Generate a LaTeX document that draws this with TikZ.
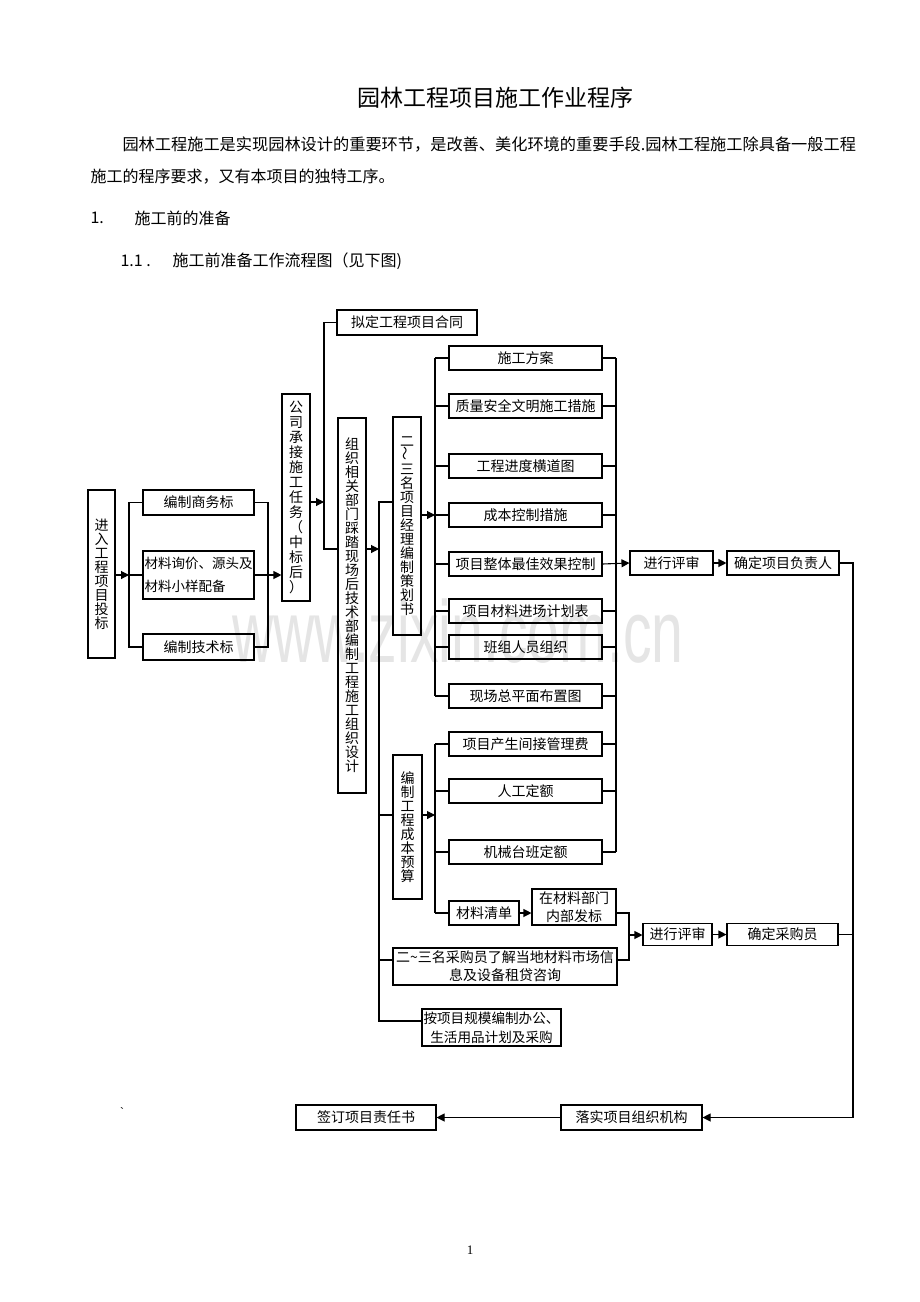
\documentclass[tikz,border=0pt]{standalone}
\usepackage{fontspec}
\usepackage{graphicx}
\setmainfont{Noto Sans CJK SC}
\newfontfamily\numfont{Liberation Serif}
\newfontfamily\wmfamily{Liberation Sans}
\usetikzlibrary{arrows.meta}

\newcommand{\titlefont}{\fontsize{23}{27}\selectfont}
\newcommand{\parafont}{\fontsize{16}{20}\selectfont}
\newcommand{\boxfont}{\fontsize{14}{18}\selectfont}
\newcommand{\vfont}{\fontsize{14}{14}\selectfont}
\newcommand{\wmfont}{\wmfamily\fontsize{88}{88}\selectfont}

\tikzset{
  box/.style={draw, line width=1.1pt, inner sep=0pt, align=center, font=\boxfont},
  vbox/.style={box, font=\vfont},
  colbox/.style={box, minimum width=153, minimum height=24},
  link/.style={line width=1.1pt},
  arr/.style={link, -{Triangle[length=8pt,width=8pt]}},
}

\begin{document}
\begin{tikzpicture}[x=1pt,y=-1pt]
\useasboundingbox[fill=white] (0,0) rectangle (920,1302);

% watermark
\node[font=\wmfont, text=black!10, xscale=0.65, anchor=base] (wm) at (458,662) {www.zixin.com.cn};

% heading text
\node[font=\titlefont] (title) at (495,98) {园林工程项目施工作业程序};
\node[font=\fontsize{16.2}{20}\selectfont, anchor=west] (para1) at (119,145) {园林工程施工是实现园林设计的重要环节，是改善、美化环境的重要手段.园林工程施工除具备一般工程};
\node[font=\parafont, anchor=west] (para2) at (87,177) {施工的程序要求，又有本项目的独特工序。};
\node[font=\parafont, anchor=west] (sec1) at (87,218) {1.};
\node[font=\parafont, anchor=west] (sec1t) at (131,218) {施工前的准备};
\node[font=\parafont, anchor=west] (sec11) at (117,261) {1.1 .};
\node[font=\parafont, anchor=west] (sec11t) at (169,261) {施工前准备工作流程图（见下图)};

% bidding
\node[vbox, minimum width=27, minimum height=168] (toubiao) at (101.5,574) {进\\入\\工\\程\\项\\目\\投\\标};
\node[box, minimum width=111, minimum height=25] (shangwu) at (198.5,502.5) {编制商务标};
\node[box, minimum width=111, minimum height=48, align=left, font=\fontsize{13.5}{22.5}\selectfont] (xunjia) at (198.5,575) {材料询价、源头及\\材料小样配备};
\node[box, minimum width=111, minimum height=26] (jishu) at (198.5,647) {编制技术标};
\node[vbox, minimum width=28, minimum height=207, font=\fontsize{14}{15}\selectfont] (chengjie) at (296,497.5) {公\\司\\承\\接\\施\\工\\任\\务\\（\\中\\标\\后\\）};
\node[box, minimum width=140, minimum height=25] (heta) at (407,322.5) {拟定工程项目合同};
\node[vbox, minimum width=28, minimum height=375] (zuzhi) at (352,605.5) {组\\织\\相\\关\\部\\门\\踩\\踏\\现\\场\\后\\技\\术\\部\\编\\制\\工\\程\\施\\工\\组\\织\\设\\计};

% planning
\node[vbox, minimum width=28, minimum height=218] (cehua) at (407,526) {二\\\rotatebox{90}{～}\\三\\名\\项\\目\\经\\理\\编\\制\\策\\划\\书};
\node[colbox] (fangan) at (525.5,358) {施工方案};
\node[colbox] (zhiliang) at (525.5,406) {质量安全文明施工措施};
\node[colbox] (jindu) at (525.5,466) {工程进度横道图};
\node[colbox] (chengben) at (525.5,515) {成本控制措施};
\node[colbox] (xiaoguo) at (525.5,564) {项目整体最佳效果控制};
\node[colbox] (jinchang) at (525.5,611) {项目材料进场计划表};
\node[colbox] (banzu) at (525.5,647) {班组人员组织};
\node[colbox] (pingmian) at (525.5,696) {现场总平面布置图};

% budget
\node[vbox, minimum width=29, minimum height=144] (yusuan) at (407.5,827) {编\\制\\工\\程\\成\\本\\预\\算};
\node[colbox] (guanli) at (525.5,744) {项目产生间接管理费};
\node[colbox] (rengong) at (525.5,791) {人工定额};
\node[colbox] (jixie) at (525.5,852) {机械台班定额};
\node[box, minimum width=70, minimum height=24] (qingdan) at (484,913) {材料清单};
\node[box, minimum width=84, minimum height=36] (fabiao) at (574,907) {在材料部门\\内部发标};
\node[box, minimum width=224, minimum height=37] (caigou) at (505,966.5) {二\textasciitilde 三名采购员了解当地材料市场信\\息及设备租贷咨询};
\node[box, minimum width=139, minimum height=37, font=\fontsize{13.6}{19}\selectfont] (yongpin) at (491.5,1027.5) {按项目规模编制办公、\\生活用品计划及采购};

% review
\node[box, minimum width=83, minimum height=24] (pingshen1) at (671.5,563) {进行评审};
\node[box, minimum width=112, minimum height=24] (fuzeren) at (783,563) {确定项目负责人};
\node[box, minimum width=69, minimum height=22] (pingshen2) at (677.5,934.5) {进行评审};
\node[box, minimum width=111, minimum height=22] (caigouyuan) at (782.5,934.5) {确定采购员};
\node[box, minimum width=141, minimum height=25] (luoshi) at (631.5,1117.5) {落实项目组织机构};
\node[box, minimum width=140, minimum height=25] (zerenshu) at (366,1117.5) {签订项目责任书};

\node[font=\wmfamily\fontsize{12}{12}\selectfont] (tick) at (122,1112) {\symbol{96}};
\node[font=\numfont\fontsize{13}{13}\selectfont] (pageno) at (470,1250) {1};

% junctions
\coordinate (lb) at (129,575);
\coordinate (rb) at (268,575);
\coordinate (s2) at (324,502);
\coordinate (s3) at (379,549);
\coordinate (s3top) at (379,502);
\coordinate (s3bot) at (379,1021);
\coordinate (ys) at (379,815);
\coordinate (cg) at (379,960);
\coordinate (s4) at (435,515);
\coordinate (s5) at (435,815);
\coordinate (rs) at (616,564);
\coordinate (s6) at (629,935);
\coordinate (fr) at (853,563);

% bidding brackets
\draw[arr] (toubiao.east |- lb) -- (lb);
\draw[link] (shangwu.west) -| (lb) |- (jishu.west);
\draw[link] (xunjia.west) -- (lb);
\draw[link] (shangwu.east) -| (rb) |- (jishu.east);
\draw[arr] (xunjia.east) -- (chengjie.west |- xunjia.east);

% contract / organisation
\draw[arr] (chengjie.east |- s2) -- (s2);
\draw[link] (heta.west) -| (s2) |- (zuzhi.west |- s3);
\draw[arr] (zuzhi.east |- s3) -- (s3);

% main spine
\draw[link] (cehua.west |- s3top) -- (s3top) -- (s3bot) -- (yongpin.west |- s3bot);
\draw[link] (ys) -- (yusuan.west |- ys);
\draw[link] (cg) -- (caigou.west |- cg);

% planning bracket
\draw[arr] (cehua.east |- s4) -- (s4);
\draw[link] (s4 |- fangan) -- (s4 |- pingmian);
\foreach \n in {fangan,zhiliang,jindu,chengben,xiaoguo,jinchang,banzu,pingmian}
  \draw[link] (s4 |- \n) -- (\n.west);

% budget bracket
\draw[arr] (yusuan.east |- s5) -- (s5);
\draw[link] (s5 |- guanli) -- (s5 |- qingdan);
\foreach \n in {guanli,rengong,jixie,qingdan}
  \draw[link] (s5 |- \n) -- (\n.west);

% right bracket
\draw[link] (rs |- fangan) -- (rs |- jixie);
\foreach \n in {fangan,zhiliang,jindu,chengben,jinchang,banzu,pingmian,guanli,rengong,jixie}
  \draw[link] (\n.east) -- (rs |- \n);
\draw[arr] (xiaoguo.east) -- (pingshen1.west);
\draw[arr] (pingshen1) -- (fuzeren);

% materials
\draw[arr] (qingdan.east) -- (fabiao.west |- qingdan.east);
\draw[link] (fabiao.east |- qingdan) -| (s6) |- (caigou.east |- cg);
\draw[arr] (s6) -- (pingshen2.west |- s6);
\draw[arr] (pingshen2) -- (caigouyuan);

% outcome
\draw[arr] (fuzeren.east) -- (fr) |- (luoshi.east);
\draw[link] (caigouyuan.east) -- (caigouyuan.east -| fr);
\draw[arr] (luoshi) -- (zerenshu);
\end{tikzpicture}
\end{document}
